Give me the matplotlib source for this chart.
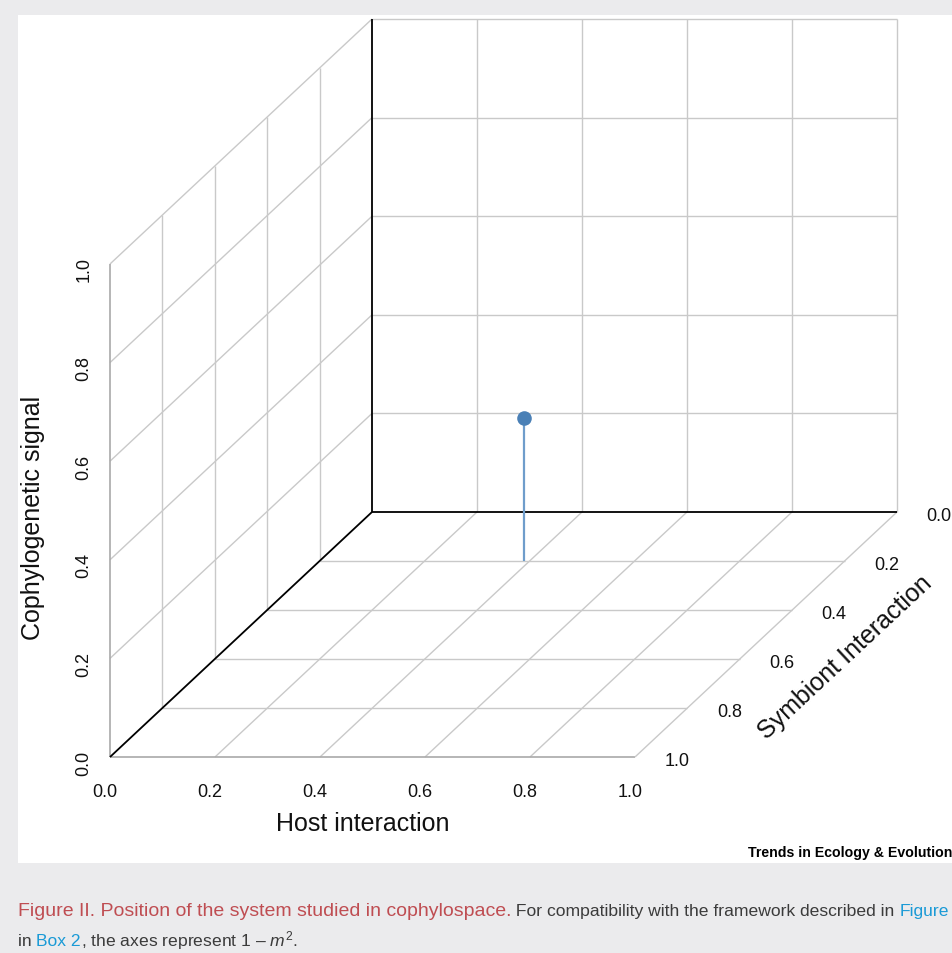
import numpy as np
import matplotlib
matplotlib.use("Agg")
import matplotlib.pyplot as plt
from matplotlib.patches import Rectangle

plt.rcParams['font.family'] = ['Liberation Sans', 'DejaVu Sans']
plt.rcParams['mathtext.fontset'] = 'custom'
plt.rcParams['mathtext.rm'] = 'Liberation Sans'
plt.rcParams['mathtext.it'] = 'Liberation Sans:italic'

# chart values
host_ticks = [0.0, 0.2, 0.4, 0.6, 0.8, 1.0]
symb_ticks = [0.0, 0.2, 0.4, 0.6, 0.8, 1.0]
coph_ticks = [0.0, 0.2, 0.4, 0.6, 0.8, 1.0]
host_val = [0.39]
symb_val = [0.2]
coph_val = [0.29]

host_label = "Host interaction"
symb_label = "Symbiont Interaction"
coph_label = "Cophylogenetic signal"

# oblique projection, in pixels of the 953x954 canvas
ORIG = (110, 758)
XLEN = 525
ZLEN = 493
DEPTH = (262, -245)


def proj(h, s, z):
    d = 1 - np.asarray(s, dtype=float)
    px = ORIG[0] + np.asarray(h, dtype=float) * XLEN + d * DEPTH[0]
    py = ORIG[1] - np.asarray(z, dtype=float) * ZLEN + d * DEPTH[1]
    return px, py


def seg(p, q, **kw):
    x0, y0 = proj(*p)
    x1, y1 = proj(*q)
    ax.plot([x0, x1], [y0, y1], solid_capstyle='butt', **kw)


fig = plt.figure(figsize=(9.53, 9.54), dpi=100)
fig.patch.set_facecolor('#ebebed')
ax = fig.add_axes([0, 0, 1, 1])
ax.set_xlim(0, 953)
ax.set_ylim(954, 0)
ax.axis('off')
ax.add_patch(Rectangle((18, 16), 935, 848, fc='white', ec='none', zorder=0))

grid = dict(color='#c9c9c9', lw=1.0, zorder=1)
edge = dict(color='#a9a9a9', lw=1.2, zorder=1)
for t in coph_ticks[1:]:
    # back wall
    seg((t, 0, 0), (t, 0, 1), **grid)
    seg((0, 0, t), (1, 0, t), **grid)
    # left wall
    seg((0, 0, t), (0, 1, t), **grid)
    seg((0, t, 0), (0, t, 1), **(edge if t == 1 else grid))
    # floor
    seg((0, t, 0), (1, t, 0), **(edge if t == 1 else grid))
    seg((t, 0, 0), (t, 1, 0), **grid)

# axis lines meeting at the back corner
blk = dict(color='black', lw=1.3, zorder=2)
seg((0, 0, 0), (0, 0, 1), **blk)
seg((0, 0, 0), (1, 0, 0), **blk)
seg((0, 0, 0), (0, 1, 0), **blk)

# the point with its stem to the floor
for h, s, z in zip(host_val, symb_val, coph_val):
    seg((h, s, 0), (h, s, z), color='#6f9dcb', lw=1.6, zorder=3)
    px, py = proj(h, s, z)
    ax.plot(px, py, 'o', color='#4a80b6', ms=10.5, mec='none', zorder=4)

# tick labels
tk = dict(fontsize=13, color='#111111', ha='center', va='center')
for t in host_ticks:
    px, py = proj(t, 1, 0)
    ax.text(px - 5, py + 35, f'{t:.1f}', **tk)
for t in coph_ticks:
    px, py = proj(0, 1, t)
    ax.text(px - 26, py + 5, f'{t:.1f}', rotation=90, **tk)
for t in symb_ticks:
    px, py = proj(1, t, 0)
    ax.text(px + 42, py + 4, f'{t:.1f}', **tk)

# axis titles
lb = dict(fontsize=18, color='#111111', ha='center', va='center')
px, py = proj(0.5, 1, 0)
ax.text(px - 10, py + 66, host_label, **lb)
px, py = proj(0, 1, 0.5)
ax.text(px - 77, py + 6, coph_label, rotation=90, **lb)
px, py = proj(1, 0.5, 0)
ax.text(px + 79, py + 22, symb_label, rotation=43, rotation_mode='anchor', **lb)

ax.text(952, 857, 'Trends in Ecology & Evolution', ha='right', va='baseline',
        fontsize=10.2, fontweight='bold', color='black')

# caption with coloured runs
red, dark, blue = '#bf4d52', '#3b3b3b', '#1a9ad6'
lines = [
    [("Figure II. Position of the system studied in cophylospace.", red, 14.0),
     (" For compatibility with the framework described in ", dark, 12.6),
     ("Figure", blue, 12.6)],
    [("in ", dark, 12.6), ("Box 2", blue, 12.6),
     (", the axes represent 1 \u2013 $m^2$.", dark, 12.6)],
]
renderer = fig.canvas.get_renderer()
for yb, parts in zip([916, 946], lines):
    x = 18
    for txt, col, fs in parts:
        t = ax.text(x, yb, txt, color=col, fontsize=fs, ha='left', va='baseline')
        x += t.get_window_extent(renderer).width

fig.savefig('out.png', dpi=100, facecolor=fig.get_facecolor())
